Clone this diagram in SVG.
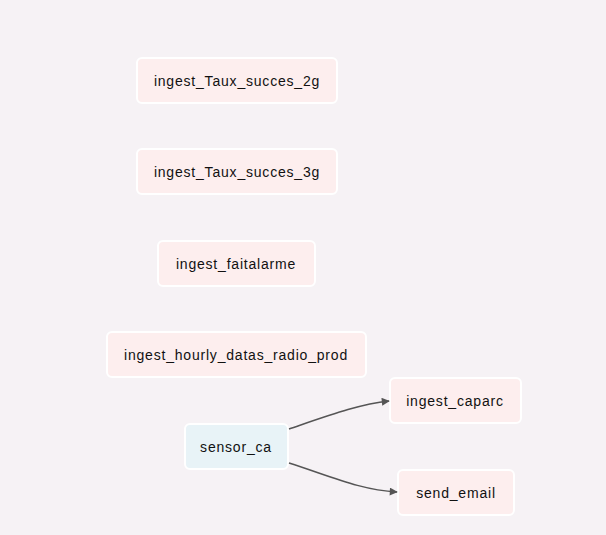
<svg xmlns="http://www.w3.org/2000/svg" width="606" height="535" viewBox="0 0 606 535">
<defs>
<style>
.n rect{fill:#fdeeee;stroke:#ffffff;stroke-width:2}
.s rect{fill:#e8f3f7;stroke:#ffffff;stroke-width:2}
text{font-family:"Liberation Sans",Arial,sans-serif;font-size:14px;letter-spacing:0.8px;fill:#111;text-anchor:middle;dominant-baseline:central}
.e path{fill:none;stroke:#555555;stroke-width:1.5}
</style>
<marker id="a" viewBox="0 0 10 10" refX="9" refY="5" markerWidth="9" markerHeight="8" markerUnits="userSpaceOnUse" orient="auto"><path d="M0,0L10,5L0,10z" fill="#555555"/></marker>
</defs>
<rect width="606" height="535" fill="#f6f2f5"/>
<g id="ingest_Taux_succes_2g" class="n"><rect x="137" y="58" width="200" height="45" rx="5"/><text x="237" y="81">ingest_Taux_succes_2g</text></g>
<g id="ingest_Taux_succes_3g" class="n"><rect x="137" y="149" width="200" height="45" rx="5"/><text x="237" y="172">ingest_Taux_succes_3g</text></g>
<g id="ingest_faitalarme" class="n"><rect x="158" y="241" width="157" height="45" rx="5"/><text x="236" y="264">ingest_faitalarme</text></g>
<g id="ingest_hourly_datas_radio_prod" class="n"><rect x="107" y="332" width="259" height="45" rx="5"/><text x="236" y="355">ingest_hourly_datas_radio_prod</text></g>
<g id="sensor_ca" class="s"><rect x="185" y="424" width="103" height="45" rx="5"/><text x="236" y="447">sensor_ca</text></g>
<g id="ingest_caparc" class="n"><rect x="390" y="378" width="131" height="45" rx="5"/><text x="455" y="401">ingest_caparc</text></g>
<g id="send_email" class="n"><rect x="398" y="470" width="116" height="45" rx="5"/><text x="456" y="493">send_email</text></g>
<g id="edges" class="e">
<path d="M289,429 C330,415 360,404 389,401" marker-end="url(#a)"/>
<path d="M289,463 C330,476 360,490 397,492" marker-end="url(#a)"/>
</g>
</svg>
